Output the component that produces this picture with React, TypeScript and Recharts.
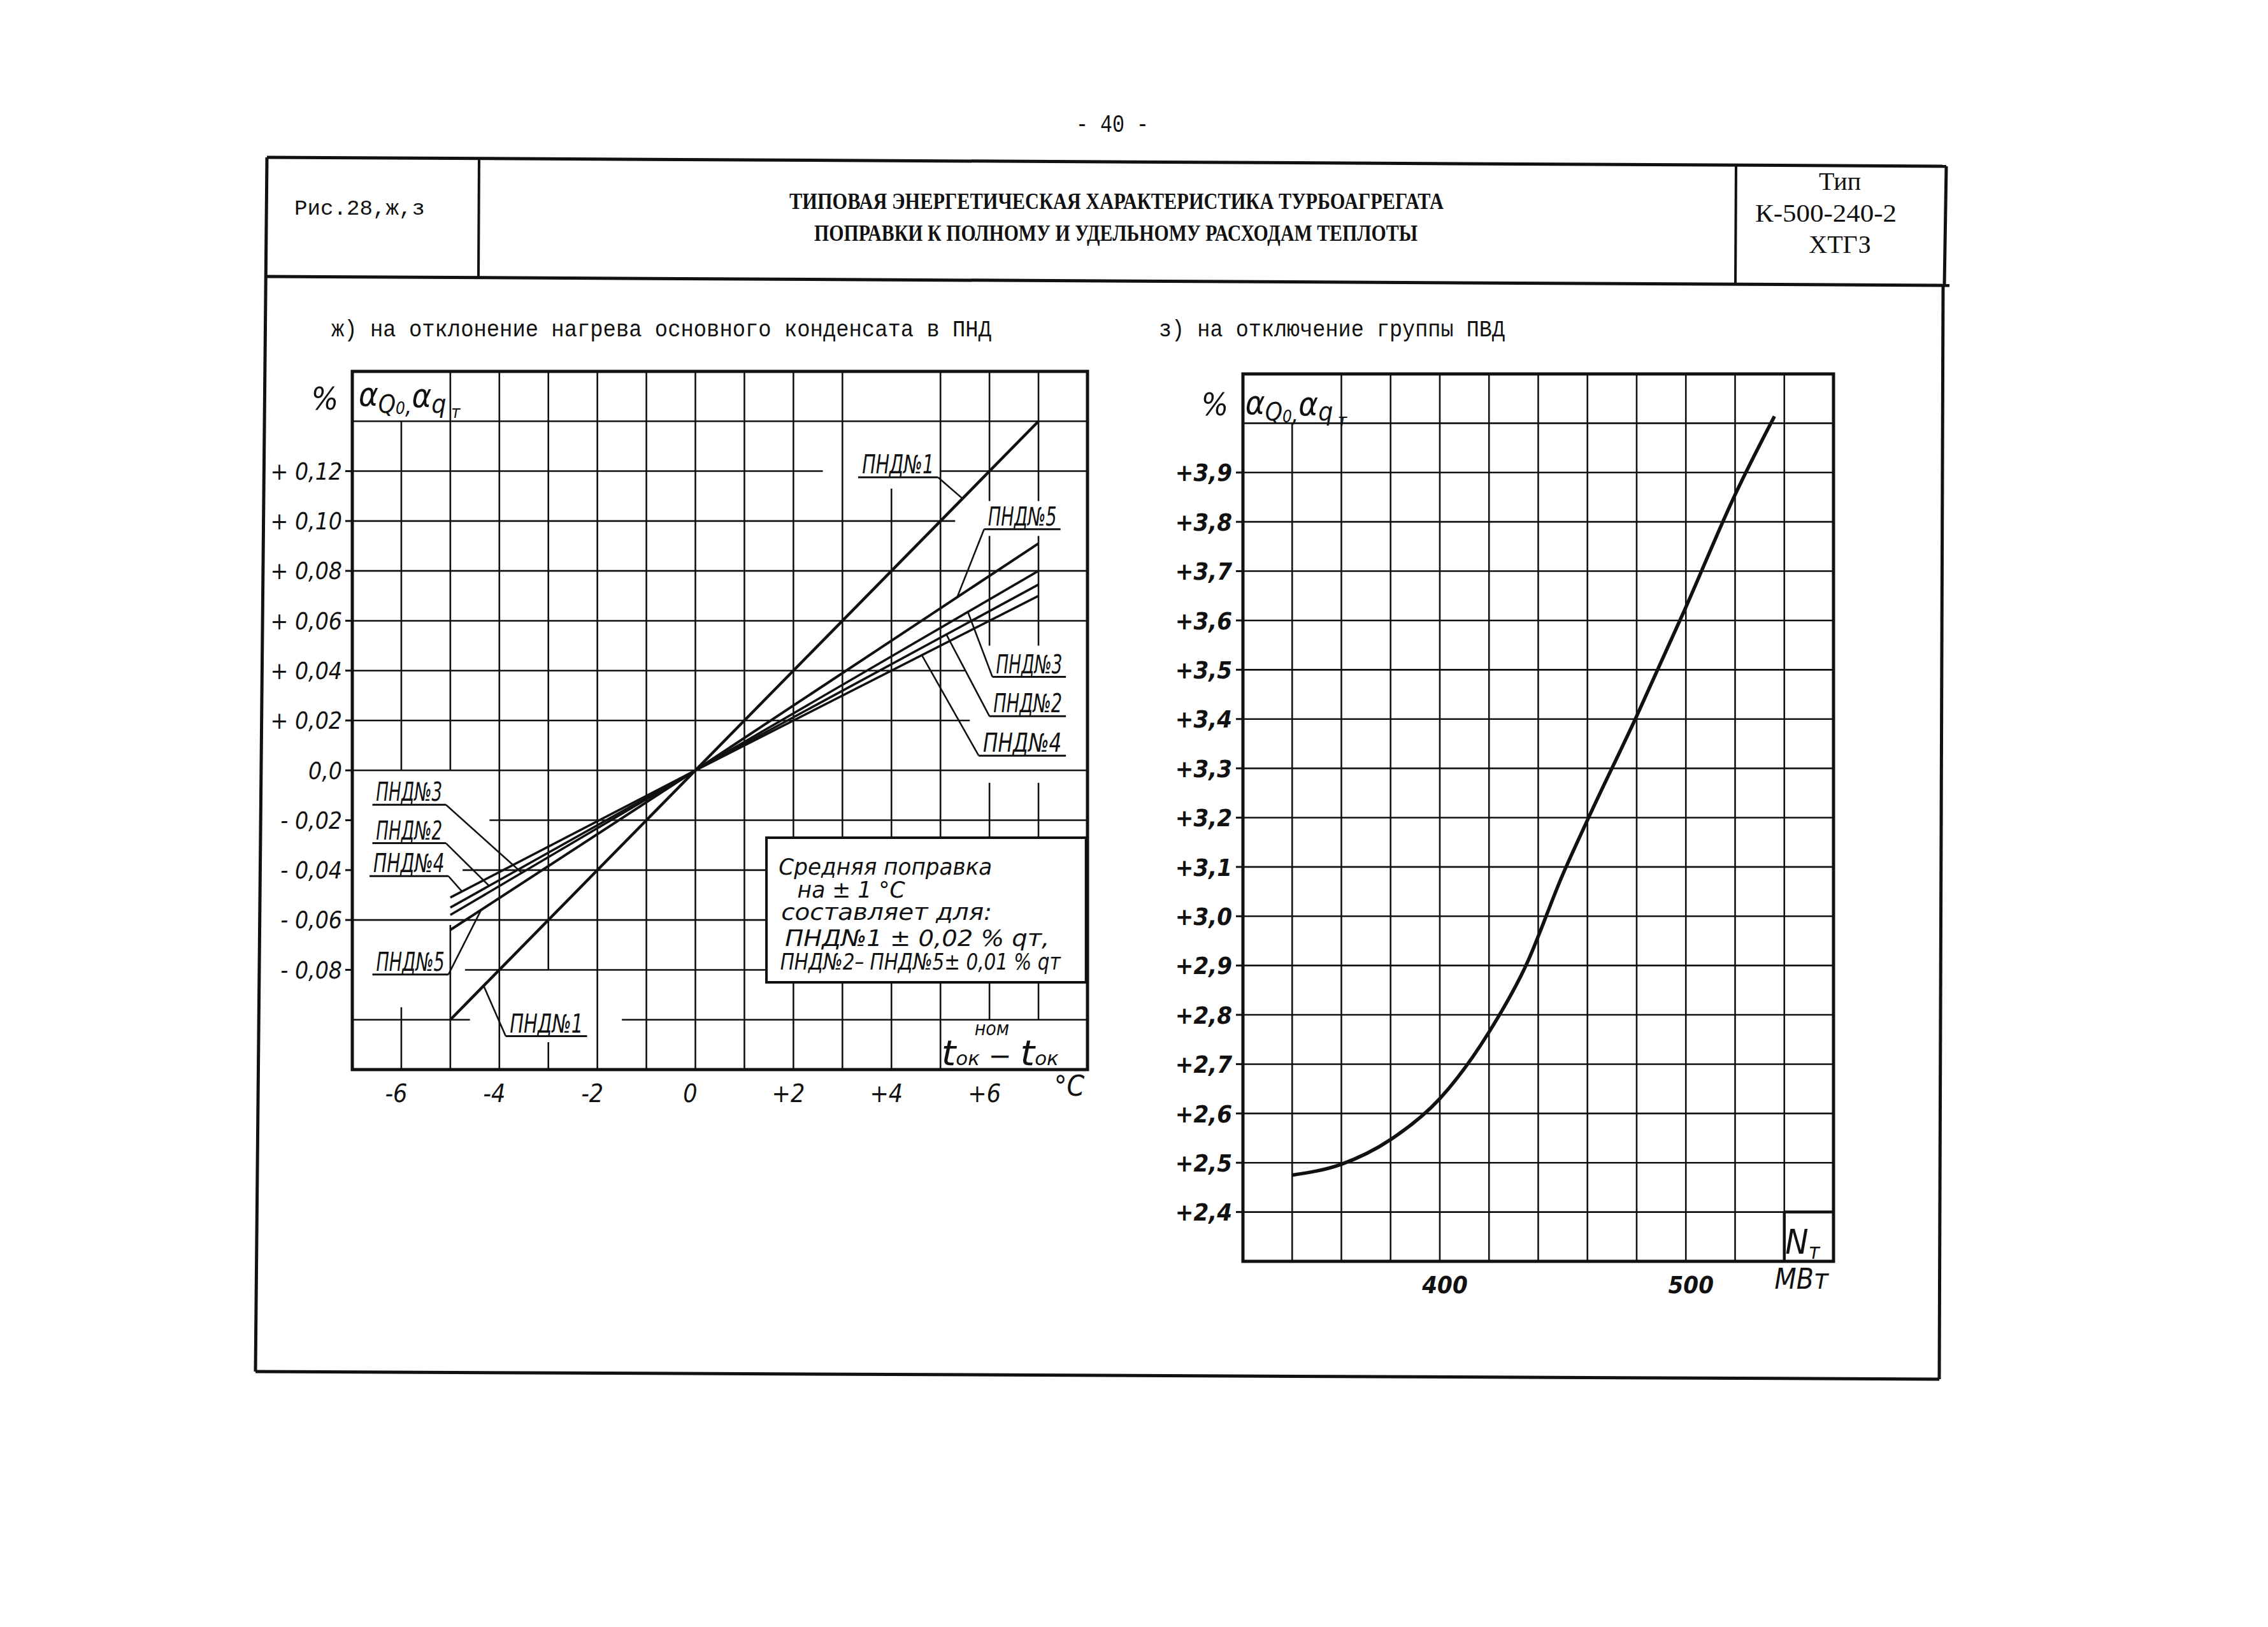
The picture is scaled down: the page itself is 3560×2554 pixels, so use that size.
import React from "react";
import {
  LineChart,
  Line,
  XAxis,
  YAxis,
  ReferenceLine,
  ReferenceArea,
  ReferenceDot,
} from "recharts";

const HAND = "'Liberation Sans Narrow', 'DejaVu Sans Condensed', 'Liberation Sans', sans-serif";
const MONO = "'Liberation Mono', 'DejaVu Sans Mono', monospace";
const SERIF = "'Liberation Serif', 'DejaVu Serif', serif";
const INK = "#111";

// ж) deviation of condensate heating in LP heaters, °C -> %
const tempDev = [-5, 0, 7];
const pnd1 = [-0.1, 0, 0.14];
const pnd2 = [-0.055, 0, 0.0745];
const pnd3 = [-0.058, 0, 0.08];
const pnd4 = [-0.051, 0, 0.07];
const pnd5 = [-0.064, 0, 0.091];
const tempTicks = [-6, -4, -2, 0, 2, 4, 6];
const corrTicks = [-0.08, -0.06, -0.04, -0.02, 0, 0.02, 0.04, 0.06, 0.08, 0.1, 0.12];
const tempGrid = [-6, -5, -4, -3, -2, -1, 0, 1, 2, 3, 4, 5, 6, 7];
const corrGrid = [-0.1, -0.08, -0.06, -0.04, -0.02, 0, 0.02, 0.04, 0.06, 0.08, 0.1, 0.12, 0.14];

// з) HP heater group switched off, MW -> %
const powerMW = [340, 360, 380, 400, 420, 435, 450, 460, 480, 500, 520, 536];
const hphCorr = [2.475, 2.497, 2.547, 2.63, 2.765, 2.9, 3.085, 3.195, 3.406, 3.627, 3.855, 4.014];
const powerTicks = [400, 500];
const hphTicks = [2.4, 2.5, 2.6, 2.7, 2.8, 2.9, 3.0, 3.1, 3.2, 3.3, 3.4, 3.5, 3.6, 3.7, 3.8, 3.9];
const powerGrid = [340, 360, 380, 400, 420, 440, 460, 480, 500, 520, 540];
const hphGrid = [2.4, 2.5, 2.6, 2.7, 2.8, 2.9, 3.0, 3.1, 3.2, 3.3, 3.4, 3.5, 3.6, 3.7, 3.8, 3.9, 4.0];

const leftRows = tempDev.map((t, i) => ({
  t,
  p1: pnd1[i],
  p2: pnd2[i],
  p3: pnd3[i],
  p4: pnd4[i],
  p5: pnd5[i],
}));
const hphRows = powerMW.map((n, i) => ({ n, v: hphCorr[i] }));

const PX_PER_DEG = 1154 / 15;

type Gap = [number, number];

// splits a grid line into drawn pieces, leaving holes where the drawing had text
function pieces(lo: number, hi: number, gaps: Gap[] = []): Gap[] {
  const out: Gap[] = [];
  let start = lo;
  [...gaps]
    .sort((a, b) => a[0] - b[0])
    .forEach(([a, b]) => {
      if (a > start) out.push([start, a]);
      start = Math.max(start, b);
    });
  if (start < hi) out.push([start, hi]);
  return out;
}

function gridLines(
  xs: number[],
  ys: number[],
  xDom: Gap,
  yDom: Gap,
  vGaps: Record<string, Gap[]>,
  hGaps: Record<string, Gap[]>,
  tag: string
) {
  const els: React.ReactElement[] = [];
  xs.forEach((v) =>
    pieces(yDom[0], yDom[1], vGaps[String(v)]).forEach(([a, b], k) =>
      els.push(
        <ReferenceLine
          key={`${tag}v${v}_${k}`}
          segment={[{ x: v, y: a }, { x: v, y: b }]}
          stroke={INK}
          strokeWidth={2.6}
          ifOverflow="visible"
        />
      )
    )
  );
  ys.forEach((v) =>
    pieces(xDom[0], xDom[1], hGaps[String(v)]).forEach(([a, b], k) =>
      els.push(
        <ReferenceLine
          key={`${tag}h${v}_${k}`}
          segment={[{ x: a, y: v }, { x: b, y: v }]}
          stroke={INK}
          strokeWidth={2.6}
          ifOverflow="visible"
        />
      )
    )
  );
  return els;
}

function textMark(
  content: React.ReactNode,
  o: { anchor?: string; size?: number; dx?: number; dy?: number; len?: number; weight?: number; font?: string } = {}
) {
  return (p: any) => (
    <text
      x={p.cx + (o.dx ?? 0)}
      y={p.cy + (o.dy ?? 0)}
      textAnchor={o.anchor ?? "start"}
      fontFamily={o.font ?? HAND}
      fontStyle="italic"
      fontSize={o.size ?? 36}
      fontWeight={o.weight ?? 400}
      fill={INK}
      textLength={o.len}
      lengthAdjust={o.len ? "spacingAndGlyphs" : undefined}
    >
      {content}
    </text>
  );
}

function alphaText(size: number) {
  return (
    <>
      α
      <tspan fontSize={size * 0.74} dy={size * 0.2}>Q</tspan>
      <tspan fontSize={size * 0.5} dy={size * 0.04}>0</tspan>
      <tspan fontSize={size * 0.7} dy={0}>,</tspan>
      <tspan fontSize={size} dy={-size * 0.2}>α</tspan>
      <tspan fontSize={size * 0.78} dy={size * 0.16}>q</tspan>
      <tspan fontSize={size * 0.52} dy={size * 0.16}> т</tspan>
    </>
  );
}

const fmtCorr = (v: number) =>
  v === 0 ? "0,0" : `${v > 0 ? "+" : "-"} ${Math.abs(v).toFixed(2).replace(".", ",")}`;
const fmtTemp = (v: number) => (v > 0 ? `+${v}` : v < 0 ? `-${Math.abs(v)}` : "0");
const fmtHph = (v: number) => `+${v.toFixed(1).replace(".", ",")}`;

const leftCallouts = [
  { text: "ПНД№1", x1: 3.32, x2: 4.95, y: 0.1175, from: 4.95, tx: 5.45, ty: 0.109 },
  { text: "ПНД№5", x1: 5.89, x2: 7.45, y: 0.0967, from: 5.89, tx: 5.34, ty: 0.0694 },
  { text: "ПНД№3", x1: 6.06, x2: 7.56, y: 0.0375, from: 6.06, tx: 5.56, ty: 0.0635 },
  { text: "ПНД№2", x1: 6.0, x2: 7.56, y: 0.0217, from: 6.0, tx: 5.12, ty: 0.0545 },
  { text: "ПНД№4", x1: 5.78, x2: 7.56, y: 0.0059, from: 5.78, tx: 4.62, ty: 0.0462 },
  { text: "ПНД№3", x1: -6.59, x2: -5.09, y: -0.0138, from: -5.09, tx: -3.54, ty: -0.0411 },
  { text: "ПНД№2", x1: -6.59, x2: -5.09, y: -0.0292, from: -5.09, tx: -4.21, ty: -0.0463 },
  { text: "ПНД№4", x1: -6.65, x2: -5.04, y: -0.0424, from: -5.04, tx: -4.76, ty: -0.0486 },
  { text: "ПНД№5", x1: -6.59, x2: -5.04, y: -0.0819, from: -5.04, tx: -4.37, ty: -0.0559 },
  { text: "ПНД№1", x1: -3.87, x2: -2.21, y: -0.1066, from: -3.87, tx: -4.32, ty: -0.0864 },
];

const noteLines = [
  { text: "Средняя    поправка", x: 1.7, y: -0.0419, len: 335 },
  { text: "на ± 1 °C", x: 2.08, y: -0.0509, len: 169 },
  { text: "составляет    для:", x: 1.75, y: -0.06, len: 331 },
  { text: "ПНД№1 ± 0,02 % qт,", x: 1.83, y: -0.0704, len: 415 },
  { text: "ПНД№2– ПНД№5± 0,01 % qт", x: 1.73, y: -0.0798, len: 440 },
];

const leftVGaps: Record<string, Gap[]> = {
  "-6": [[-0.095, 0], [0.14, 0.16]],
  "-5": [[-0.062, 0]],
  "-3": [[-0.109, -0.08]],
  "2": [[-0.085, -0.027]],
  "3": [[-0.085, -0.027]],
  "4": [[-0.085, -0.027], [0.113, 0.16]],
  "5": [[-0.085, -0.027]],
  "6": [[-0.12, -0.1], [-0.085, -0.027], [-0.005, 0.05], [0.094, 0.108]],
  "7": [[-0.12, -0.1], [-0.085, -0.027], [-0.005, 0.05], [0.094, 0.108]],
};
const leftHGaps: Record<string, Gap[]> = {
  "0.12": [[2.6, 5.0]],
  "0.1": [[5.3, 8]],
  "0.04": [[5.5, 8]],
  "0.02": [[5.6, 8]],
  "-0.02": [[-7, -4.2]],
  "-0.04": [[-7, -4.75], [1.45, 8]],
  "-0.06": [[1.45, 8]],
  "-0.08": [[-7, -4.7], [1.45, 8]],
  "-0.1": [[-4.6, -1.5]],
};

function HeatingChart() {
  const xDom: Gap = [-7, 8];
  const yDom: Gap = [-0.12, 0.16];
  return (
    <LineChart
      width={1380}
      height={1220}
      data={leftRows}
      margin={{ top: 43, right: 53, bottom: 21, left: 63 }}
    >
      <XAxis
        dataKey="t"
        type="number"
        domain={xDom}
        ticks={tempTicks}
        allowDataOverflow
        axisLine={false}
        tickLine={false}
        tickSize={0}
        tickMargin={0}
        height={60}
        tick={(p: any) => (
          <text x={p.x - 8} y={p.y + 51} textAnchor="middle" fontFamily={HAND} fontStyle="italic" fontSize={39} fill={INK}>
            {fmtTemp(p.payload.value)}
          </text>
        )}
      />
      <YAxis
        type="number"
        domain={yDom}
        ticks={corrTicks}
        allowDataOverflow
        axisLine={false}
        tickSize={11}
        tickMargin={5}
        tickLine={{ stroke: INK, strokeWidth: 3 }}
        width={110}
        tick={(p: any) => (
          <text x={p.x} y={p.y} dy="0.36em" textAnchor="end" fontFamily={HAND} fontStyle="italic" fontSize={37} fill={INK}>
            {fmtCorr(p.payload.value)}
          </text>
        )}
      />
      {gridLines(tempGrid, corrGrid, xDom, yDom, leftVGaps, leftHGaps, "L")}
      <ReferenceArea x1={xDom[0]} x2={xDom[1]} y1={yDom[0]} y2={yDom[1]} fill="none" stroke={INK} strokeWidth={5} ifOverflow="visible" />
      <ReferenceArea x1={1.45} x2={7.97} y1={-0.085} y2={-0.027} fill="#fff" fillOpacity={1} stroke={INK} strokeWidth={4} ifOverflow="visible" />

      <Line type="linear" dataKey="p1" stroke={INK} strokeWidth={4.5} dot={false} isAnimationActive={false} />
      <Line type="linear" dataKey="p5" stroke={INK} strokeWidth={4} dot={false} isAnimationActive={false} />
      <Line type="linear" dataKey="p3" stroke={INK} strokeWidth={3.6} dot={false} isAnimationActive={false} />
      <Line type="linear" dataKey="p2" stroke={INK} strokeWidth={3.6} dot={false} isAnimationActive={false} />
      <Line type="linear" dataKey="p4" stroke={INK} strokeWidth={3.6} dot={false} isAnimationActive={false} />

      {leftCallouts.flatMap((c, i) => [
        <ReferenceLine key={`u${i}`} segment={[{ x: c.x1, y: c.y }, { x: c.x2, y: c.y }]} stroke={INK} strokeWidth={3} ifOverflow="visible" />,
        <ReferenceLine key={`l${i}`} segment={[{ x: c.from, y: c.y }, { x: c.tx, y: c.ty }]} stroke={INK} strokeWidth={2.6} ifOverflow="visible" />,
        <ReferenceDot
          key={`t${i}`}
          x={(c.x1 + c.x2) / 2}
          y={c.y}
          r={0}
          ifOverflow="visible"
          shape={textMark(c.text, { anchor: "middle", size: 40, dy: -6, len: (c.x2 - c.x1) * PX_PER_DEG * 0.9 })}
        />,
      ])}

      {noteLines.map((n, i) => (
        <ReferenceDot key={`n${i}`} x={n.x} y={n.y} r={0} ifOverflow="visible" shape={textMark(n.text, { size: 36, len: n.len })} />
      ))}

      <ReferenceDot x={-7.56} y={0.1446} r={0} ifOverflow="visible" shape={textMark("%", { anchor: "middle", size: 50 })} />
      <ReferenceDot x={-6.87} y={0.1461} r={0} ifOverflow="visible" shape={textMark(alphaText(52), { size: 52 })} />
      <ReferenceDot
        x={5.02}
        y={-0.1183}
        r={0}
        ifOverflow="visible"
        shape={textMark(
          <>
            t<tspan fontSize={30}>ок</tspan>
            <tspan fontSize={42}> − </tspan>t<tspan fontSize={30}>ок</tspan>
          </>,
          { size: 56, len: 184 }
        )}
      />
      <ReferenceDot x={6.05} y={-0.1063} r={0} ifOverflow="visible" shape={textMark("ном", { anchor: "middle", size: 30 })} />
      <ReferenceDot x={7.63} y={-0.1305} r={0} ifOverflow="visible" shape={textMark("°C", { anchor: "middle", size: 44 })} />
    </LineChart>
  );
}

function HphChart() {
  const xDom: Gap = [320, 560];
  const yDom: Gap = [2.3, 4.1];
  return (
    <LineChart
      width={1120}
      height={1530}
      data={hphRows}
      margin={{ top: 47, right: 62, bottom: 30, left: 21 }}
    >
      <XAxis
        dataKey="n"
        type="number"
        domain={xDom}
        ticks={powerTicks}
        allowDataOverflow
        axisLine={false}
        tickLine={false}
        tickSize={0}
        tickMargin={0}
        height={60}
        tick={(p: any) => (
          <text x={p.x + 8} y={p.y + 50} textAnchor="middle" fontFamily={HAND} fontStyle="italic" fontSize={38} fontWeight={600} fill={INK}>
            {p.payload.value}
          </text>
        )}
      />
      <YAxis
        type="number"
        domain={yDom}
        ticks={hphTicks}
        allowDataOverflow
        axisLine={false}
        tickSize={11}
        tickMargin={6}
        tickLine={{ stroke: INK, strokeWidth: 3 }}
        width={110}
        tick={(p: any) => (
          <text x={p.x} y={p.y} dy="0.36em" textAnchor="end" fontFamily={HAND} fontStyle="italic" fontSize={38} fontWeight={600} fill={INK}>
            {fmtHph(p.payload.value)}
          </text>
        )}
      />
      {gridLines(powerGrid, hphGrid, xDom, yDom, { "340": [[4.0, 4.1]] }, {}, "R")}
      <ReferenceArea x1={xDom[0]} x2={xDom[1]} y1={yDom[0]} y2={yDom[1]} fill="none" stroke={INK} strokeWidth={5} ifOverflow="visible" />
      <ReferenceLine segment={[{ x: 540, y: 2.3 }, { x: 540, y: 2.4 }]} stroke={INK} strokeWidth={4.5} ifOverflow="visible" />
      <ReferenceLine segment={[{ x: 540, y: 2.4 }, { x: 560, y: 2.4 }]} stroke={INK} strokeWidth={4.5} ifOverflow="visible" />

      <Line type="monotone" dataKey="v" stroke={INK} strokeWidth={5.5} dot={false} isAnimationActive={false} />

      <ReferenceDot x={308.6} y={4.0162} r={0} ifOverflow="visible" shape={textMark("%", { anchor: "middle", size: 50 })} />
      <ReferenceDot x={321} y={4.0185} r={0} ifOverflow="visible" shape={textMark(alphaText(52), { size: 52 })} />
      <ReferenceDot
        x={540.4}
        y={2.3155}
        r={0}
        ifOverflow="visible"
        shape={textMark(
          <>
            N<tspan fontSize={34} dy={8}>т</tspan>
          </>,
          { size: 54 }
        )}
      />
      <ReferenceDot x={547} y={2.2444} r={0} ifOverflow="visible" shape={textMark("МВт", { anchor: "middle", size: 44 })} />
    </LineChart>
  );
}

function Frame() {
  const line = { stroke: INK, strokeWidth: 5, fill: "none" };
  return (
    <svg width={3560} height={2554} style={{ position: "absolute", left: 0, top: 0 }}>
      <text x={1689} y={207} fontFamily={MONO} fontSize={38} fill={INK} textLength={114} lengthAdjust="spacingAndGlyphs">
        - 40 -
      </text>
      <path d="M419 247 L3055 261" {...line} />
      <path d="M415 434 L3060 448" {...line} />
      <path d="M419 247 L401 2153" {...line} />
      <path d="M3055 261 L3052 448" {...line} />
      <path d="M3050 448 L3044 2165" {...line} />
      <path d="M401 2153 L3044 2165" {...line} />
      <path d="M752 248 L751 435" {...line} strokeWidth={4} />
      <path d="M2725 260 L2724 447" {...line} strokeWidth={4} />

      <text x={462} y={337} fontFamily={MONO} fontSize={34} fill={INK} textLength={205} lengthAdjust="spacingAndGlyphs">
        Рис.28,ж,з
      </text>
      <text x={1239} y={328} fontFamily={SERIF} fontSize={36} fontWeight="bold" fill={INK} textLength={1027} lengthAdjust="spacingAndGlyphs">
        ТИПОВАЯ ЭНЕРГЕТИЧЕСКАЯ ХАРАКТЕРИСТИКА ТУРБОАГРЕГАТА
      </text>
      <text x={1278} y={378} fontFamily={SERIF} fontSize={36} fontWeight="bold" fill={INK} textLength={947} lengthAdjust="spacingAndGlyphs">
        ПОПРАВКИ К ПОЛНОМУ И УДЕЛЬНОМУ РАСХОДАМ ТЕПЛОТЫ
      </text>
      <text x={2888} y={298} textAnchor="middle" fontFamily={SERIF} fontSize={40} fill={INK}>
        Тип
      </text>
      <text x={2755} y={348} fontFamily={SERIF} fontSize={40} fill={INK} textLength={222} lengthAdjust="spacingAndGlyphs">
        К-500-240-2
      </text>
      <text x={2888} y={397} textAnchor="middle" fontFamily={SERIF} fontSize={40} fill={INK}>
        ХТГЗ
      </text>

      <text x={520} y={528} fontFamily={MONO} fontSize={37} fill={INK} textLength={1036} lengthAdjust="spacingAndGlyphs">
        ж) на отклонение нагрева основного конденсата в ПНД
      </text>
      <text x={1819} y={528} fontFamily={MONO} fontSize={37} fill={INK} textLength={543} lengthAdjust="spacingAndGlyphs">
        з) на отключение группы ПВД
      </text>
    </svg>
  );
}

export default function App() {
  return (
    <div style={{ position: "absolute", left: 0, top: 0, width: 3560, height: 2554, background: "#fff", overflow: "hidden" }}>
      <Frame />
      <div style={{ position: "absolute", left: 380, top: 540 }}>
        <HeatingChart />
      </div>
      <div style={{ position: "absolute", left: 1820, top: 540 }}>
        <HphChart />
      </div>
    </div>
  );
}
